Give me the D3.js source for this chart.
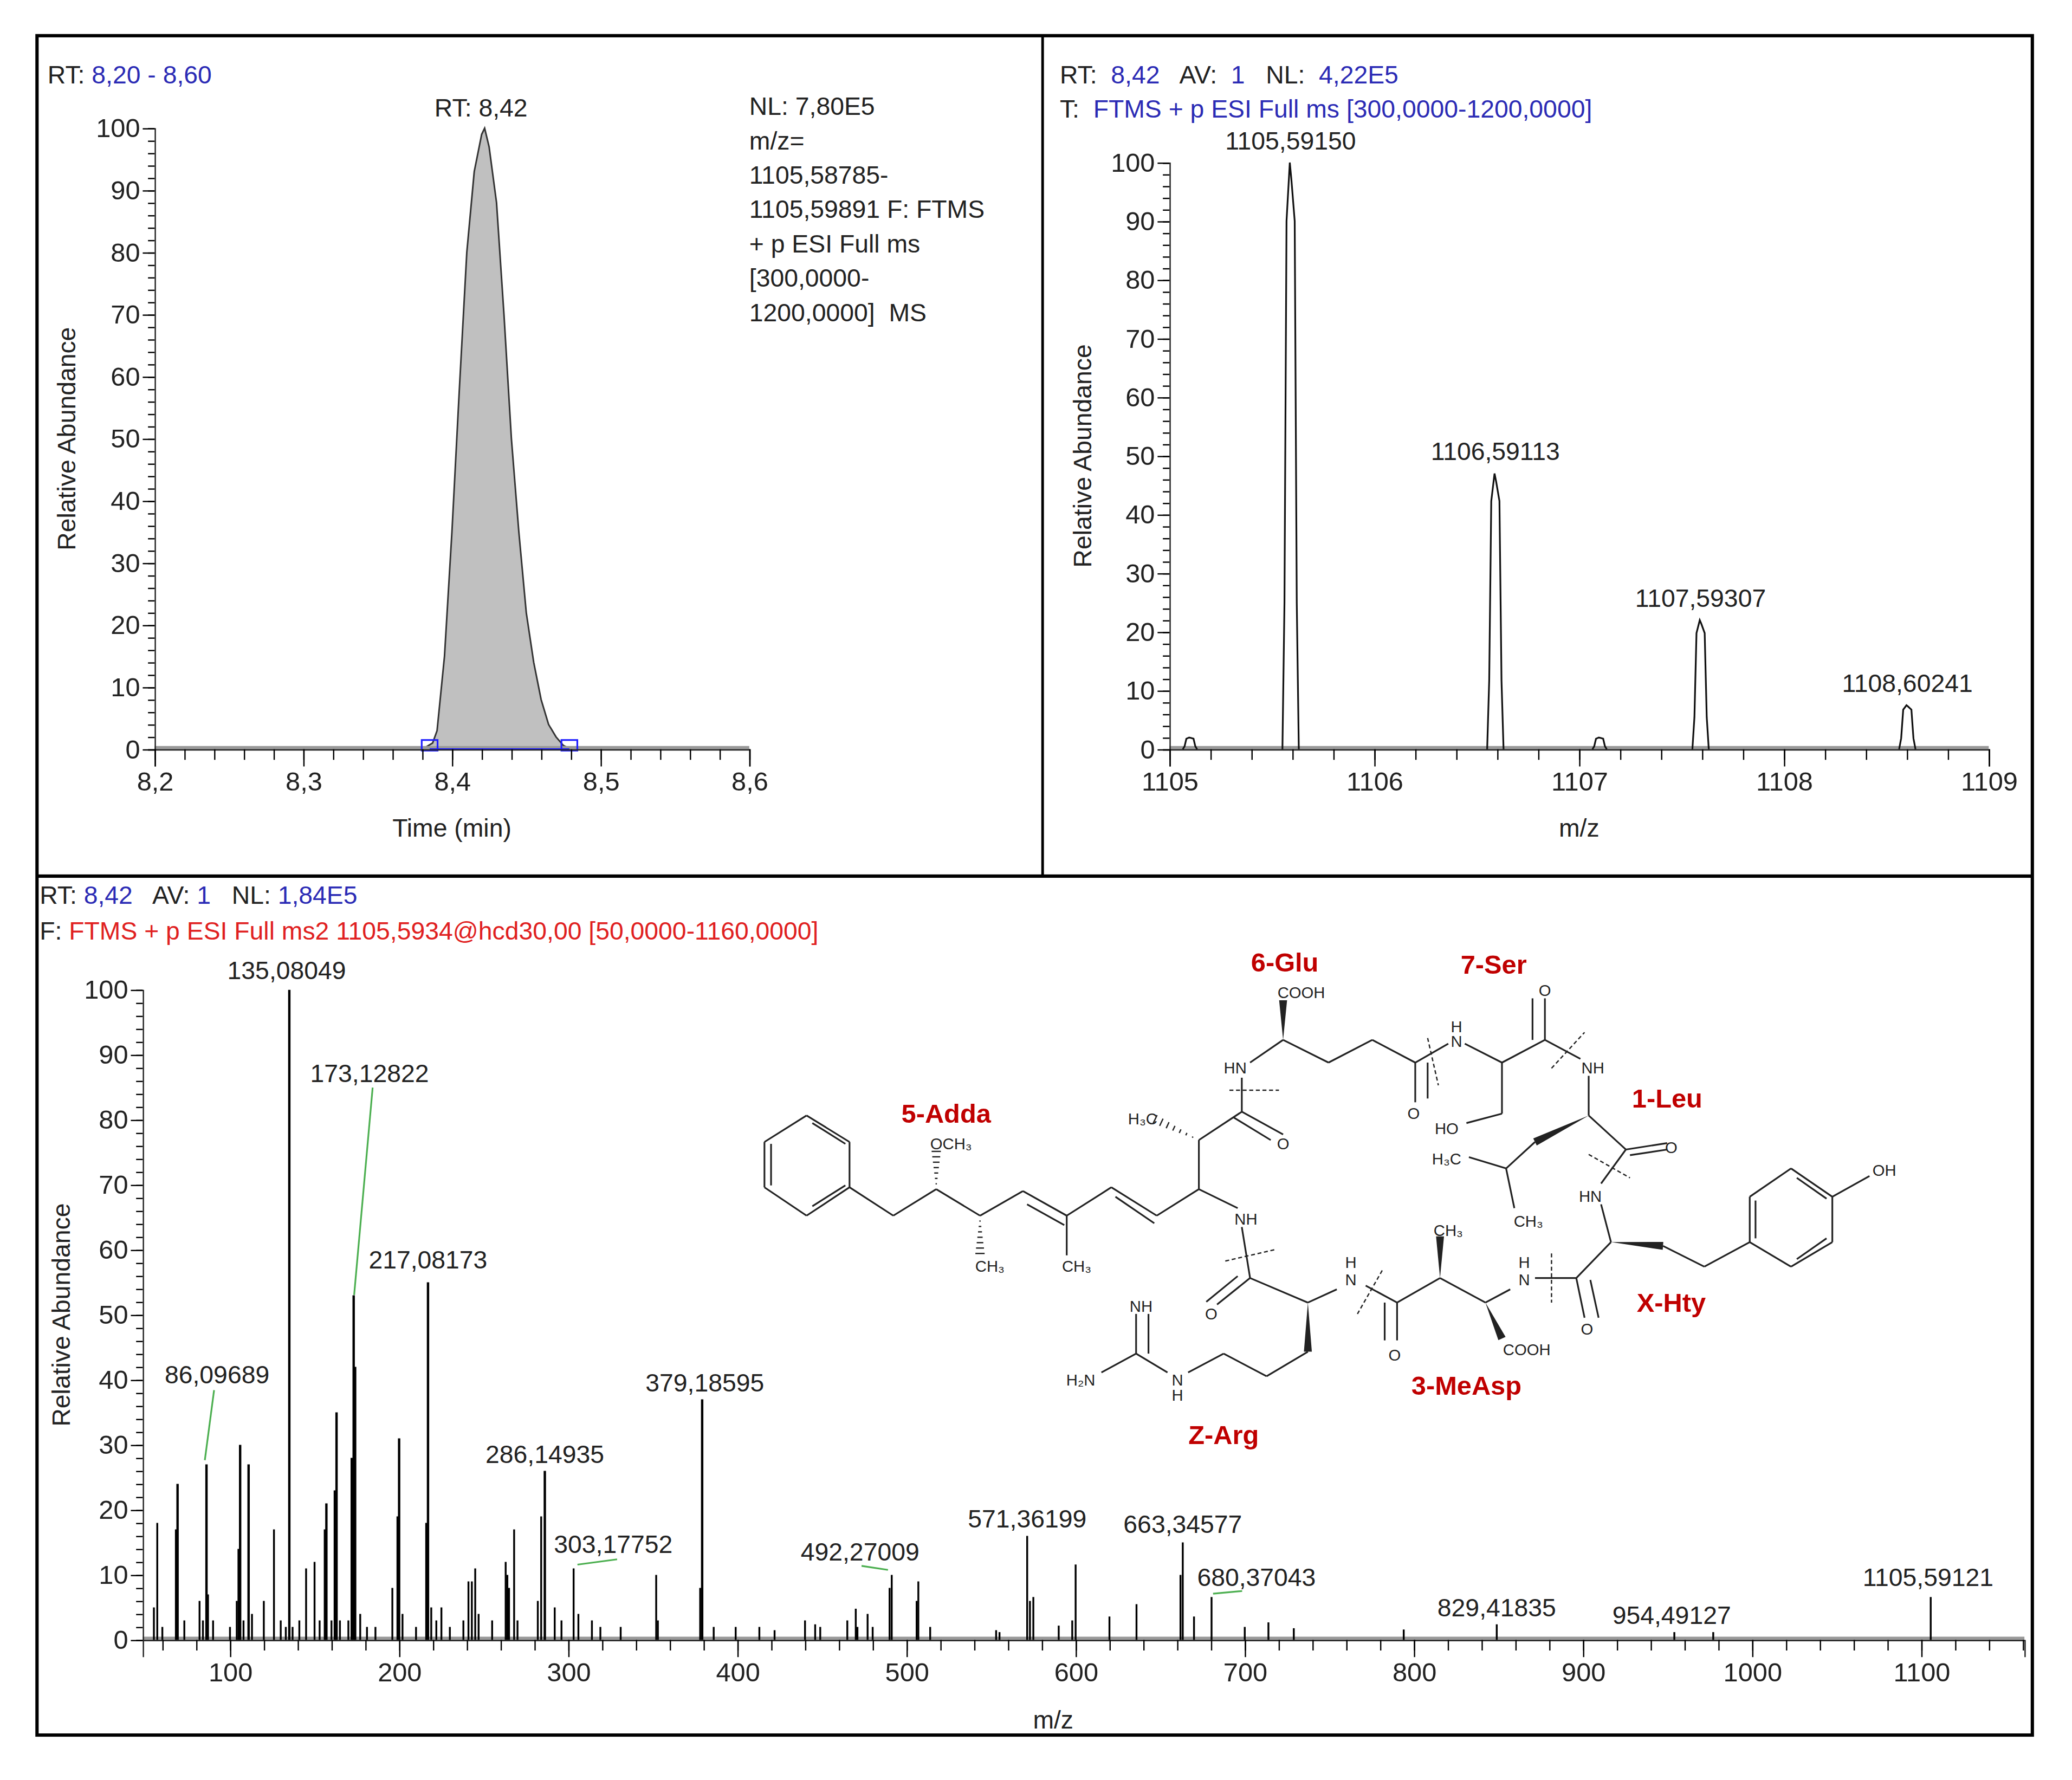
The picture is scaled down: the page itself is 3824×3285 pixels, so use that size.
<!DOCTYPE html>
<html><head><meta charset="utf-8">
<script src="https://cdn.jsdelivr.net/npm/d3@7"></script>
<style>body{margin:0;background:#fff}text{font-family:"Liberation Sans",Arial,sans-serif;white-space:pre}</style>
</head><body><svg id="c" width="3824" height="3285" viewBox="0 0 1568 1347"></svg>
<script>
// ---------- DATA ----------
const chromTime = [8.20,8.38,8.387,8.39,8.395,8.40,8.405,8.41,8.415,8.42,8.422,8.425,8.43,8.435,8.44,8.445,8.45,8.455,8.46,8.465,8.47,8.475,8.48,8.60];
const chromAbund = [0,0,1,3,15,35,58,80,93,99,100,97,88,70,50,35,22,14,8,4,2,0.6,0,0];
const ms1Mz = [1105.10,1105.5915,1106.5911,1107.10,1107.5931,1108.6024];
const ms1Int = [2,100,47,2,22,7.5];
const ms1Labels = [null,"1105,59150","1106,59113",null,"1107,59307","1108,60241"];
const ms2Mz = [55,57,60,68,69,73,82,84,86.1,87,90,100,104,105,106,108,111,113,120,126,130,133,135.08,137,141,145,150,153,156,157,160,162,163,165,170,172,173.13,174,177,181,186,196,199,200,202,210,216,217.08,219,222,225,230,238,241,243,245,247,255,263,264,265,268,270,282,284,286.15,292,296,303.18,306,314,319,331,352,353,379.19,378,386,399,413,422,440,446,449,465,470,471,477,480,491.27,490,506,507,514,553,555,571.36,573,575,590,598,600,620,636,662,663.35,670,680.37,700,714,729,794,849,954,977,1105.59];
const ms2Int = [5,18,2,17,24,3,6,3,27,7,3,2,6,14,30,3,27,4,6,17,3,2,100,2,3,11,12,3,17,21,3,23,35,3,3,28,53,42,4,2,2,8,19,31,4,2,18,55,5,3,5,2,3,9,9,11,4,3,12,10,8,17,3,6,19,26,5,3,11,4,3,2,2,10,3,37,8,2,2,2,1.5,3,2.4,2,3,4.8,2,4,2,10,8,6,9,2,1.5,1.2,16,6,6.6,2.2,3,11.6,3.6,5.5,10,15,3.6,6.6,2,2.7,1.8,1.6,2.4,1.2,1.2,6.6];
const ms2Labels = [
 {mz:135.08,t:"135,08049",dx:-2,y:741},
 {mz:173.13,t:"173,12822",dx:12,y:819,g:[[282,823],[268,980]]},
 {mz:217.08,t:"217,08173",dx:0,y:960},
 {mz:86.1,t:"86,09689",dx:8,y:1047,g:[[162,1052],[155,1105]]},
 {mz:379.19,t:"379,18595",dx:2,y:1053},
 {mz:286.15,t:"286,14935",dx:0,y:1107},
 {mz:303.18,t:"303,17752",dx:30,y:1175,g:[[467,1180],[437,1184]]},
 {mz:491.27,t:"492,27009",dx:-24,y:1181,g:[[652,1185],[672,1188]]},
 {mz:571.36,t:"571,36199",dx:0,y:1156},
 {mz:663.35,t:"663,34577",dx:0,y:1160},
 {mz:680.37,t:"680,37043",dx:34,y:1200,g:[[940,1204],[918,1206]]},
 {mz:849,t:"829,41835",dx:0,y:1223},
 {mz:954,t:"954,49127",dx:-2,y:1229},
 {mz:1105.59,t:"1105,59121",dx:-2,y:1200}];
const yTicks = [0,10,20,30,40,50,60,70,80,90,100];
const blue="#2b2bb5", red="#e02020";

const svg=d3.select("#c");
function txt(g,x,y,s,opt={}){return g.append("text").attr("x",x).attr("y",y).attr("font-size",opt.fs||19).attr("fill",opt.fill||"#222").attr("text-anchor",opt.a||"start").attr("font-weight",opt.fw||"normal").text(s);}
function multi(g,x,y,parts,fs){const t=g.append("text").attr("x",x).attr("y",y).attr("font-size",fs||19);parts.forEach(p=>t.append("tspan").attr("fill",p[1]).text(p[0]));return t;}
function yAxis(g,y,x0,minor){
  g.append("g").attr("transform",`translate(${x0},0)`).call(d3.axisLeft(y).tickValues(yTicks).tickSize(9).tickPadding(2)).call(a=>{a.selectAll("text").attr("font-size",20).attr("fill","#222");a.select(".domain").remove();});
  g.append("g").attr("transform",`translate(${x0},0)`).call(d3.axisLeft(y).tickValues(d3.range(0,101,minor)).tickSize(5).tickFormat("")).call(a=>a.select(".domain").attr("stroke","#222"));
}
function xAxis(g,x,y0,major,minorV,fmt){
  g.append("g").attr("transform",`translate(0,${y0})`).call(d3.axisBottom(x).tickValues(major).tickSize(13).tickPadding(4).tickFormat(fmt)).call(a=>{a.selectAll("text").attr("font-size",20).attr("fill","#222");a.select(".domain").attr("stroke","#222");});
  g.append("g").attr("transform",`translate(0,${y0})`).call(d3.axisBottom(x).tickValues(minorV).tickSize(8).tickFormat("")).call(a=>a.select(".domain").remove());
}
const comma=d=>String(d).replace(".",",");

// frames
svg.append("rect").attr("x",28).attr("y",27).attr("width",1510).attr("height",1286).attr("fill","none").attr("stroke","#000").attr("stroke-width",2.5);
svg.append("line").attr("x1",789).attr("x2",789).attr("y1",27).attr("y2",663).attr("stroke","#000").attr("stroke-width",2);
svg.append("line").attr("x1",28).attr("x2",1538).attr("y1",663).attr("y2",663).attr("stroke","#000").attr("stroke-width",2.5);

// ---------- Panel 1 ----------
{
const g=svg.append("g");
const x=d3.scaleLinear().domain([8.2,8.6]).range([117,567]);
const y=d3.scaleLinear().domain([0,100]).range([567,97]);
multi(g,36,63,[["RT: ","#222"],["8,20 - 8,60",blue]]);
txt(g,364,88,"RT: 8,42",{a:"middle"});
["NL: 7,80E5","m/z=","1105,58785-","1105,59891 F: FTMS","+ p ESI Full ms","[300,0000-","1200,0000]  MS"].forEach((s,i)=>txt(g,567,87+i*26,s));
const pts=chromTime.map((t,i)=>[t,chromAbund[i]]);
g.append("path").datum(pts).attr("d",d3.area().x(d=>x(d[0])).y0(y(0)).y1(d=>y(d[1]))).attr("fill","#c0c0c0").attr("stroke","#333").attr("stroke-width",1.2);
g.append("line").attr("x1",x(8.2)).attr("x2",x(8.6)).attr("y1",y(0)-1).attr("y2",y(0)-1).attr("stroke","#999").attr("stroke-width",3);
g.append("line").attr("x1",x(8.385)).attr("x2",x(8.479)).attr("y1",y(0)).attr("y2",y(0)).attr("stroke","#2020ff").attr("stroke-width",1.5);
[8.385,8.479].forEach(t=>g.append("rect").attr("x",x(t)-6).attr("y",y(0)-7).attr("width",12).attr("height",8).attr("fill","none").attr("stroke","#2020ff").attr("stroke-width",1.3));
yAxis(g,y,117,2);
xAxis(g,x,567,[8.2,8.3,8.4,8.5,8.6],d3.range(8.2,8.601,0.02),d=>comma(d.toFixed(1)));
txt(g,342,633,"Time (min)",{a:"middle"});
g.append("text").attr("transform","translate(57,332) rotate(-90)").attr("text-anchor","middle").attr("font-size",19).attr("fill","#222").text("Relative Abundance");
}
// ---------- Panel 2 ----------
{
const g=svg.append("g");
const x=d3.scaleLinear().domain([1105,1109]).range([885,1505]);
const y=d3.scaleLinear().domain([0,100]).range([567,123]);
multi(g,802,63,[["RT:  ","#222"],["8,42",blue],["   AV:  ","#222"],["1",blue],["   NL:  ","#222"],["4,22E5",blue]]);
multi(g,802,89,[["T:  ","#222"],["FTMS + p ESI Full ms [300,0000-1200,0000]",blue]]);
g.append("line").attr("x1",x(1105)).attr("x2",x(1109)).attr("y1",y(0)-1).attr("y2",y(0)-1).attr("stroke","#999").attr("stroke-width",3);
ms1Mz.forEach((m,i)=>{
  const h=ms1Int[i], w=h>5?0.04:0.035;
  const p=[[m-w,0],[m-w*0.75,h*0.25],[m-w*0.5,h*0.9],[m-0.004,h],[m+0.004,h*0.97],[m+w*0.5,h*0.9],[m+w*0.75,h*0.25],[m+w,0]];
  g.append("path").datum(p).attr("d",d3.line().x(d=>x(d[0])).y(d=>y(d[1]))).attr("fill","none").attr("stroke","#111").attr("stroke-width",1.3);
  if(ms1Labels[i]) txt(g,x(m),y(h)-10,ms1Labels[i],{a:"middle"});
});
yAxis(g,y,885,2);
xAxis(g,x,567,[1105,1106,1107,1108,1109],d3.range(1105,1109.01,0.2),d=>d);
txt(g,1195,633,"m/z",{a:"middle"});
g.append("text").attr("transform","translate(826,345) rotate(-90)").attr("text-anchor","middle").attr("font-size",19).attr("fill","#222").text("Relative Abundance");
}
// ---------- Panel 3 ----------
{
const g=svg.append("g");
const x=d3.scaleLinear().domain([48.4,1161]).range([108,1532]);
const y=d3.scaleLinear().domain([0,100]).range([1241,749]);
multi(g,30,684,[["RT: ","#222"],["8,42",blue],["   AV: ","#222"],["1",blue],["   NL: ","#222"],["1,84E5",blue]]);
multi(g,30,711,[["F: ","#222"],["FTMS + p ESI Full ms2 1105,5934@hcd30,00 [50,0000-1160,0000]",red]]);
g.append("line").attr("x1",108).attr("x2",1532).attr("y1",y(0)-1).attr("y2",y(0)-1).attr("stroke","#999").attr("stroke-width",3);
g.selectAll("line.pk").data(ms2Mz.map((m,i)=>[m,ms2Int[i]])).join("line").attr("class","pk")
 .attr("x1",d=>x(d[0])).attr("x2",d=>x(d[0])).attr("y1",y(0)).attr("y2",d=>y(d[1])).attr("stroke","#000").attr("stroke-width",d=>d[1]>20?1.8:1.4);
ms2Labels.forEach(l=>{
  txt(g,x(l.mz)+l.dx,l.y,l.t,{a:"middle"});
  if(l.g) g.append("line").attr("x1",l.g[0][0]).attr("y1",l.g[0][1]).attr("x2",l.g[1][0]).attr("y2",l.g[1][1]).attr("stroke","#4caf50").attr("stroke-width",1.3);
});
yAxis(g,y,108,2);
xAxis(g,x,1241,d3.range(100,1101,100),d3.range(60,1161,20),d=>d);
txt(g,797,1308,"m/z",{a:"middle"});
g.append("text").attr("transform","translate(53,995) rotate(-90)").attr("text-anchor","middle").attr("font-size",19).attr("fill","#222").text("Relative Abundance");

// ---------- structure (illustration) ----------
const S=(p)=>[571+p[0]*0.625,694+p[1]*0.286];
const st=g.append("g").attr("stroke","#222").attr("stroke-width",1.3).attr("fill","none");
const bonds=[
 [[63,525],[115,595]],[[115,595],[115,715]],[[115,715],[63,790]],[[63,790],[12,715]],[[12,715],[12,595]],[[12,595],[63,525]],
 [[115,715],[168,790]],[[168,790],[220,720]],[[220,720],[273,790]],[[273,790],[325,725]],[[325,725],[378,790]],[[378,790],[432,715]],[[432,715],[487,790]],[[487,790],[538,720]],
 [[378,790],[378,895]],[[538,720],[538,590]],[[538,590],[590,515]],[[590,515],[640,575]],[[590,515],[590,425]],
 [[600,385],[640,325]],[[640,325],[695,385]],[[695,385],[748,325]],[[748,325],[800,385]],[[800,385],[800,490]],[[800,385],[840,335]],
 [[860,335],[905,385]],[[905,385],[905,520]],[[905,520],[862,545]],[[905,385],[957,325]],[[957,325],[957,215]],[[957,325],[1000,375]],
 [[1010,420],[1010,525]],[[945,595],[910,665]],[[910,665],[865,635]],[[910,665],[920,770]],[[1010,525],[1055,615]],[[1055,615],[1105,598]],[[1055,615],[1025,705]],
 [[1025,760],[1037,860]],[[1100,870],[1150,925]],[[1150,925],[1205,860]],
 [[1205,860],[1205,740]],[[1205,740],[1255,665]],[[1255,665],[1305,740]],[[1305,740],[1305,860]],[[1305,860],[1255,925]],[[1255,925],[1205,860]],[[1305,740],[1350,685]],
 [[1037,860],[995,955]],[[995,955],[1005,1060]],[[995,955],[945,955]],[[915,985],[885,1020]],[[885,1020],[830,955]],[[830,955],[778,1020]],[[778,1020],[778,1120]],[[778,1020],[740,975]],
 [[705,985],[670,1020]],[[670,1150],[620,1215]],[[620,1215],[568,1155]],[[568,1155],[525,1205]],[[500,1205],[462,1155]],[[462,1155],[462,1050]],[[462,1155],[420,1205]],
 [[670,1020],[600,955]],[[600,955],[560,1025]],[[600,955],[590,820]],[[585,770],[538,720]]];
bonds.forEach(b=>{const a=S(b[0]),c=S(b[1]);st.append("line").attr("x1",a[0]).attr("y1",a[1]).attr("x2",c[0]).attr("y2",c[1]);});
const dbl=[[[70,545],[110,600]],[[110,710],[70,765]],[[20,600],[20,710]],[[330,760],[375,815]],[[437,740],[484,810]],[[580,530],[625,590]],[[815,385],[815,480]],[[942,325],[942,215]],[[1060,630],[1105,615]],[[1212,850],[1212,750]],[[1262,690],[1298,745]],[[1262,905],[1298,850]],[[1012,960],[1022,1060]],[[763,1020],[763,1120]],[[585,950],[547,1018]],[[477,1155],[477,1050]]];
dbl.forEach(b=>{const a=S(b[0]),c=S(b[1]);st.append("line").attr("x1",a[0]).attr("y1",a[1]).attr("x2",c[0]).attr("y2",c[1]);});
const wedge=(p,q)=>{const a=S(p),c=S(q);const dx=c[0]-a[0],dy=c[1]-a[1],L=Math.hypot(dx,dy),nx=-dy/L*3,ny=dx/L*3;
 g.append("path").attr("d",`M${a[0]},${a[1]}L${c[0]+nx},${c[1]+ny}L${c[0]-nx},${c[1]-ny}Z`).attr("fill","#222");};
wedge([640,325],[640,220]);wedge([1010,525],[945,595]);wedge([1037,860],[1100,870]);wedge([885,1020],[905,1115]);wedge([830,955],[830,845]);wedge([670,1020],[670,1150]);
const hash=(p,q)=>{const a=S(p),c=S(q);for(let k=1;k<=7;k++){const t=k/7,px=a[0]+(c[0]-a[0])*t,py=a[1]+(c[1]-a[1])*t,dx=c[0]-a[0],dy=c[1]-a[1],L=Math.hypot(dx,dy),w=t*3.5;
 st.append("line").attr("x1",px-dy/L*w).attr("y1",py+dx/L*w).attr("x2",px+dy/L*w).attr("y2",py-dx/L*w).attr("stroke-width",1);}};
hash([220,720],[220,620]);hash([273,790],[273,890]);hash([538,590],[485,535]);
const cuts=[[[575,458],[635,458]],[[815,320],[828,445]],[[965,400],[1005,305]],[[1010,628],[1060,690]],[[965,890],[965,1020]],[[760,935],[730,1050]],[[570,910],[630,880]]];
cuts.forEach(b=>{const a=S(b[0]),c=S(b[1]);st.append("line").attr("x1",a[0]).attr("y1",a[1]).attr("x2",c[0]).attr("y2",c[1]).attr("stroke-dasharray","3,2").attr("stroke-width",1);});
const atoms=[["OCH₃",238,600],["CH₃",285,925],["CH₃",390,925],["H₃C",470,535],["O",640,600],["HN",582,400],["COOH",662,200],["O",798,520],["H",850,290],["N",850,330],["HO",838,560],["O",957,195],["NH",1015,400],["H₃C",838,640],["CH₃",937,805],["O",1110,610],["HN",1012,740],["OH",1368,670],["O",1008,1090],["H",932,915],["N",932,960],["COOH",935,1145],["CH₃",840,830],["O",775,1160],["H",722,915],["N",722,960],["NH",595,800],["O",553,1050],["NH",468,1030],["N",512,1225],["H",512,1265],["H₂N",395,1225]];
atoms.forEach(a=>{const p=S([a[1],a[2]]);txt(g,p[0],p[1]+4,a[0],{a:"middle",fs:12});});
const names=[["5-Adda",232,520],["6-Glu",642,120],["7-Ser",895,125],["1-Leu",1105,480],["X-Hty",1110,1020],["3-MeAsp",862,1240],["Z-Arg",568,1370]];
names.forEach(a=>{const p=S([a[1],a[2]]);txt(g,p[0],p[1]+7,a[0],{a:"middle",fs:20,fw:"bold",fill:"#c00000"});});
}
</script></body></html>
